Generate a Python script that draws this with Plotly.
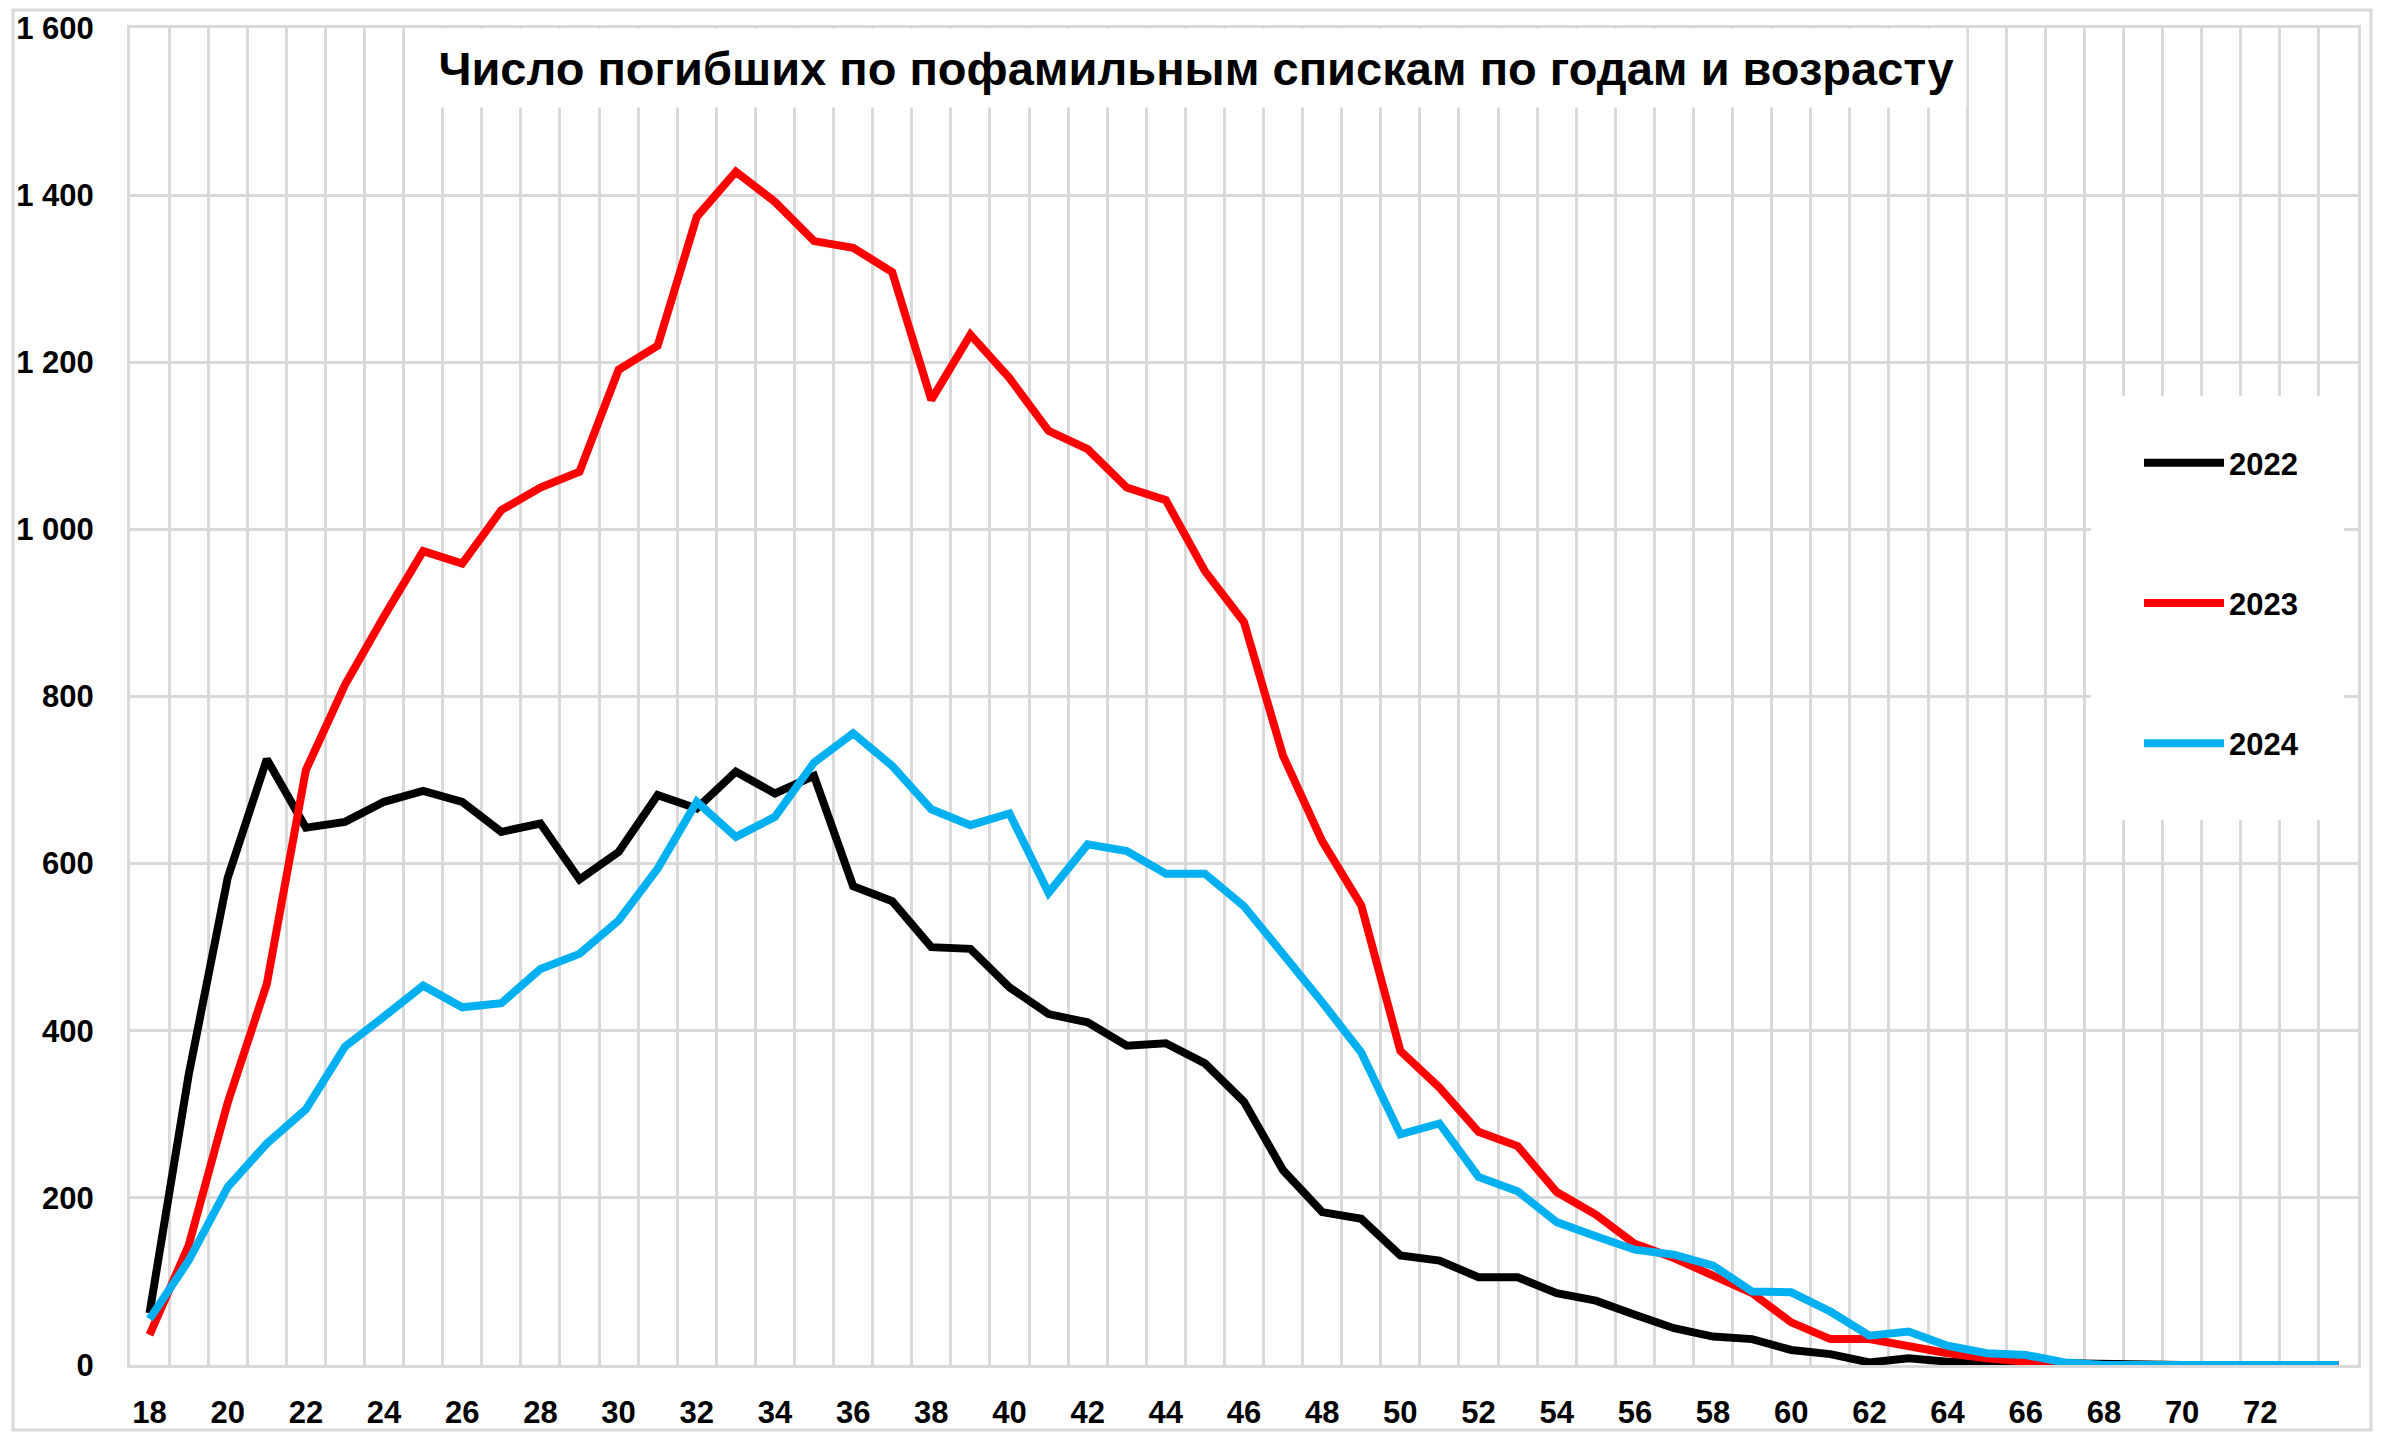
import plotly.graph_objects as go

ages = list(range(18, 75))
y2022 = [62, 347, 583, 725, 643, 650, 674, 687, 674, 638, 648, 581, 614, 682, 666, 710, 684, 705,
         573, 555, 500, 498, 452, 420, 410, 382, 385, 361, 315, 233, 183, 175, 131, 125, 105, 105,
         86, 77, 60, 44, 34, 31, 18, 13, 3, 8, 4, 3, 2, 3, 1, 0, 0, 0, 0, 0, 0]
y2023 = [36, 143, 314, 456, 712, 814, 896, 974, 959, 1023, 1050, 1069, 1191, 1220, 1374, 1428, 1392, 1345,
         1337, 1308, 1155, 1233, 1181, 1118, 1096, 1050, 1035, 950, 889, 729, 627, 550, 376, 332, 279, 262,
         207, 180, 145, 128, 107, 86, 51, 31, 31, 22, 14, 8, 4, 0, 0, 0, 0, 0, 0, 0, 0]
y2024 = [55, 125, 213, 265, 306, 381, 417, 454, 428, 433, 474, 492, 532, 594, 674, 632, 656, 721,
         756, 717, 665, 646, 660, 565, 623, 615, 588, 588, 549, 493, 434, 374, 276, 289, 225, 208,
         171, 154, 138, 132, 119, 88, 87, 64, 35, 40, 23, 14, 12, 3, 0, 0, 0, 0, 0, 0, 0]
series_names = ["2022", "2023", "2024"]
series_colors = ["#000000", "#ff0000", "#00b0f0"]
x_tick_vals = list(range(18, 73, 2))
y_tick_vals = list(range(0, 1601, 200))
title_text = "Число погибших по пофамильным спискам по годам и возрасту"

FONT_L = "Liberation Sans, Arial, sans-serif"
GRID = "#d9d9d9"

fig = go.Figure()
for name, vals, col, grp in zip(series_names, [y2022, y2023, y2024], series_colors, ["a", "b", "c"]):
    fig.add_trace(go.Scatter(x=ages, y=vals, mode="lines", name=name, legendgroup=grp,
                             line=dict(color=col, width=8)))

# page has an 8px body margin: figure placed at (8, 8)
OFF = 8
W, H = 2381 - 2 * OFF, 1440 - 2 * OFF
PL, PR, PT, PB = 130, 2358, 28, 1365          # plot area in page pixels
L, T = PL - OFF, PT - OFF
R, B = W - (PR - OFF), H - (PB - OFF)
pw, ph = PR - PL, PB - PT

def px(xp):
    return (xp - PL) / pw

def py(yp):
    return 1 - (yp - PT) / ph

fig.update_layout(
    width=W, height=H,
    margin=dict(l=L, r=R, t=T, b=B, autoexpand=False),
    paper_bgcolor="white", plot_bgcolor="white",
    separators=", ",
    font=dict(family=FONT_L, color="black", size=30, weight="bold"),
    showlegend=True,
    legend=dict(x=px(2139), y=py(436), xanchor="left", yanchor="top",
                bgcolor="rgba(0,0,0,0)", font=dict(size=31, family=FONT_L, weight="bold"),
                tracegroupgap=97, itemwidth=80),
    xaxis=dict(range=[17.5, 74.5], tickmode="array", tickvals=x_tick_vals,
               ticktext=[str(v) for v in x_tick_vals], showgrid=False, zeroline=False,
               ticks="", ticklabelstandoff=18, automargin=False,
               tickfont=dict(size=31, family=FONT_L, weight="bold"),
               showline=True, linecolor=GRID, linewidth=3, mirror=True,
               minor=dict(tickmode="linear", tick0=17.5, dtick=1, showgrid=True,
                          gridcolor=GRID, gridwidth=3, ticks="")),
    yaxis=dict(range=[0, 1600], tickmode="array", tickvals=y_tick_vals, tickformat=",d",
               showgrid=True, gridcolor=GRID, gridwidth=3, zeroline=False, ticks="",
               ticklabelstandoff=27, automargin=False,
               tickfont=dict(size=31, family=FONT_L, weight="bold"),
               showline=True, linecolor=GRID, linewidth=3, mirror=True),
    annotations=[dict(text=title_text,
                      xref="paper", yref="paper", x=px(1196), y=py(68),
                      xanchor="center", yanchor="middle", showarrow=False,
                      font=dict(size=47, family=FONT_L, weight="bold", color="black"),
                      bgcolor="white", width=1536, height=74, borderpad=2)],
    shapes=[
        dict(type="rect", xref="paper", yref="paper", x0=px(2091), x1=px(2344),
             y0=py(820), y1=py(396), fillcolor="white", line=dict(width=0), layer="above"),
        dict(type="rect", xref="paper", yref="paper", x0=px(13), x1=px(2371),
             y0=py(1430), y1=py(10), fillcolor="rgba(0,0,0,0)", line=dict(color=GRID, width=3),
             layer="above"),
    ],
)

fig.write_html("out.html")
